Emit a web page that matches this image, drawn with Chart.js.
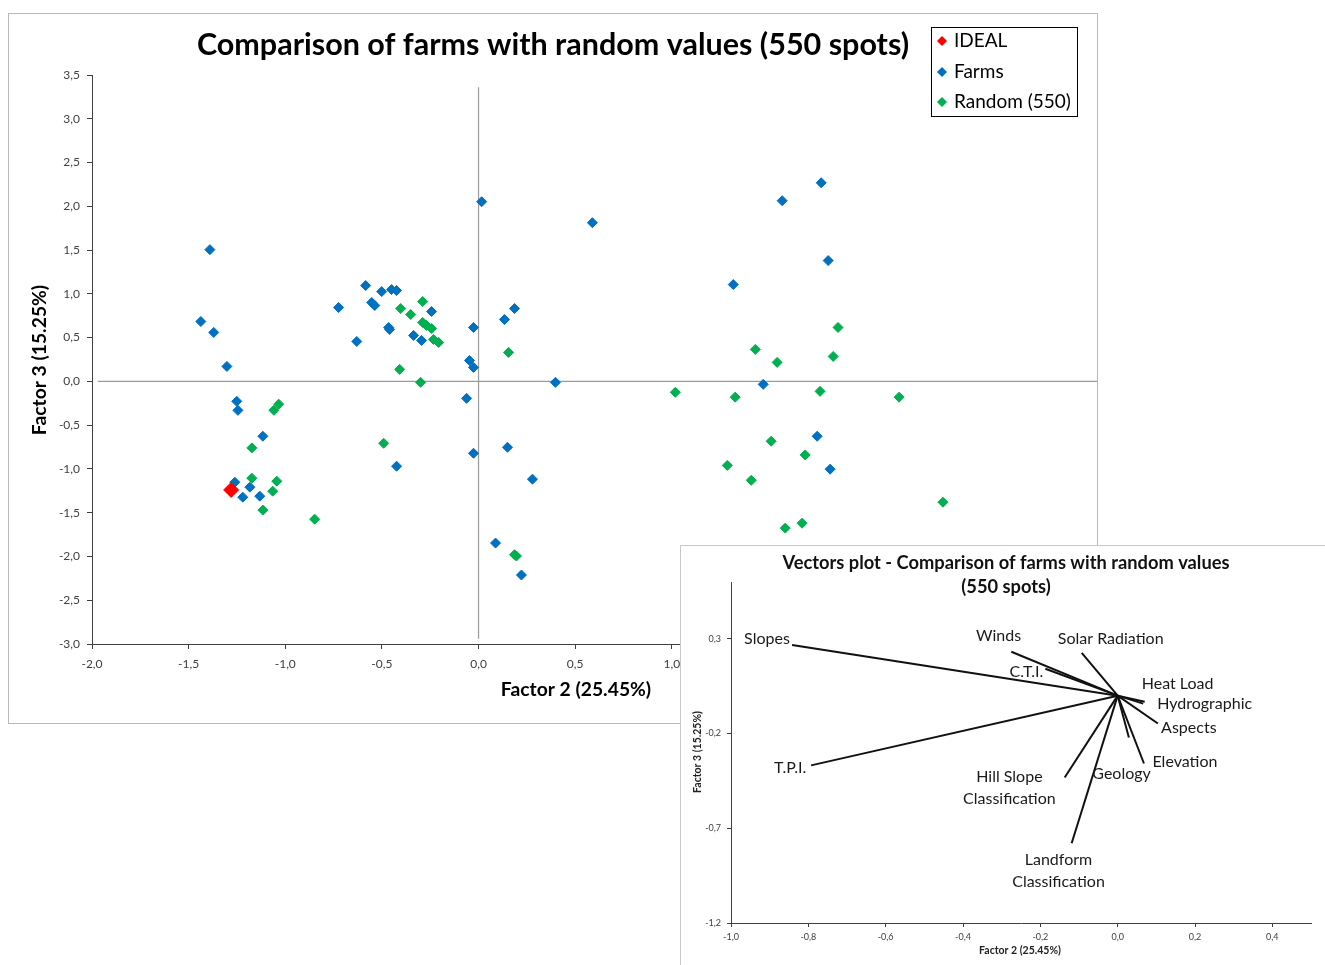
<!DOCTYPE html>
<html>
<head>
<meta charset="utf-8">
<script src="https://cdn.jsdelivr.net/npm/chart.js@4.4.1/dist/chart.umd.min.js"></script>
<style>
  html, body { margin: 0; padding: 0; background: #fff; }
  body { width: 1325px; height: 965px; position: relative; overflow: hidden; }
  #mainBox { position: absolute; left: 8px; top: 13px; }
  #insetBox { position: absolute; left: 680px; top: 545px; background: #fff; }
  canvas { display: block; }
</style>
</head>
<body>
<div id="mainBox"><canvas id="mainChart" width="1090" height="711"></canvas></div>
<div id="insetBox"><canvas id="vectorChart" width="645" height="420"></canvas></div>
<script>
// ---- main scatter: Factor 2 (x) vs Factor 3 (y) ----
const idealX = [-1.28];
const idealY = [-1.24];

const farmsX = [-1.390, -1.437, -1.370, -1.302, -1.251, -1.245, -1.116, -1.261, -1.183, -1.220, -1.132,
  -0.724, -0.630, -0.584, -0.553, -0.537, -0.501, -0.450, -0.424, -0.465, -0.460, -0.336, -0.295, -0.243,
  -0.424, -0.026, -0.047, -0.026, -0.062, -0.026, 0.016, 0.134, 0.186, 0.150, 0.279, 0.088, 0.222, 0.398,
  0.589, 1.571, 1.773, 1.318, 1.809, 1.473, 1.752, 1.819];
const farmsY = [1.505, 0.684, 0.559, 0.171, -0.228, -0.331, -0.627, -1.152, -1.209, -1.323, -1.311,
  0.844, 0.456, 1.095, 0.901, 0.867, 1.026, 1.049, 1.038, 0.616, 0.593, 0.525, 0.468, 0.798,
  -0.969, 0.616, 0.239, 0.160, -0.194, -0.821, 2.052, 0.707, 0.832, -0.753, -1.117, -1.847, -2.212, -0.011,
  1.813, 2.064, 2.269, 1.106, 1.380, -0.034, -0.627, -1.003];

const randomX = [-1.059, -1.034, -1.173, -1.173, -1.044, -1.065, -1.116, -0.848, -0.491, -0.403, -0.351,
  -0.289, -0.289, -0.269, -0.243, -0.233, -0.207, -0.408, -0.300, 0.155, 0.196, 0.186, 1.860, 1.432, 1.545,
  1.835, 1.018, 1.328, 1.767, 2.176, 1.514, 1.690, 1.287, 1.411, 2.403, 1.587, 1.674];
const randomY = [-0.330, -0.260, -0.760, -1.106, -1.140, -1.254, -1.470, -1.574, -0.707, 0.832, 0.764,
  0.912, 0.673, 0.639, 0.604, 0.479, 0.445, 0.137, -0.011, 0.331, -1.995, -1.980, 0.616, 0.365, 0.217,
  0.285, -0.125, -0.180, -0.114, -0.180, -0.684, -0.840, -0.960, -1.130, -1.380, -1.676, -1.620];

// the two cross lines through 0
const hLineX = [-1.97, 3.2];
const vLineY = [3.36, -2.94];

const mainXTicks = [-2.0, -1.5, -1.0, -0.5, 0.0, 0.5, 1.0, 1.5, 2.0, 2.5, 3.0];
const mainYTicks = [-3.0, -2.5, -2.0, -1.5, -1.0, -0.5, 0.0, 0.5, 1.0, 1.5, 2.0, 2.5, 3.0, 3.5];

const seriesNames = ['IDEAL', 'Farms', 'Random (550)'];
const seriesColors = ['#ff0000', '#0070c0', '#00b050'];

// ---- vectors plot ----
const vectorNames = ['Slopes', 'T.P.I.', 'Winds', 'C.T.I.', 'Solar Radiation', 'Heat Load', 'Hydrographic',
  'Aspects', 'Elevation', 'Geology', 'Hill Slope Classification', 'Landform Classification'];
const vectorX = [-0.842, -0.793, -0.275, -0.187, -0.093, 0.070, 0.066, 0.104, 0.068, 0.029, -0.137, -0.119];
const vectorY = [0.268, -0.368, 0.232, 0.142, 0.226, -0.032, -0.042, -0.147, -0.358, -0.221, -0.432, -0.779];

const vecXTicks = [-1.0, -0.8, -0.6, -0.4, -0.2, 0.0, 0.2, 0.4];
const vecYTicks = [-1.2, -0.7, -0.2, 0.3];

// where each vector's name is written (in axis units), and how it wraps
const labelAt = [[-0.907, 0.300], [-0.847, -0.379], [-0.308, 0.316], [-0.236, 0.126], [-0.018, 0.300],
  [0.155, 0.063], [0.225, -0.042], [0.184, -0.168], [0.174, -0.347], [0.010, -0.411], [-0.280, -0.426],
  [-0.153, -0.868]];
const labelLines = [['Slopes'], ['T.P.I.'], ['Winds'], ['C.T.I.'], ['Solar Radiation'], ['Heat Load'],
  ['Hydrographic'], ['Aspects'], ['Elevation'], ['Geology'], ['Hill Slope', 'Classification'],
  ['Landform', 'Classification']];

const FONT = 'Lato, "Open Sans", sans-serif';
const fmt = v => (Math.abs(v) < 1e-9 ? 0 : v).toFixed(1).replace('.', ',');

function pts(xs, ys) {
  return xs.map((x, i) => ({ x: x, y: ys[i] }));
}

function text(ctx, str, x, y, font, color, align) {
  ctx.save();
  ctx.font = font;
  ctx.fillStyle = color || '#000';
  ctx.textAlign = align || 'center';
  ctx.textBaseline = 'middle';
  ctx.fillText(str, x, y);
  ctx.restore();
}

function diamond(ctx, x, y, r, color) {
  ctx.save();
  ctx.fillStyle = color;
  ctx.beginPath();
  ctx.moveTo(x - r, y);
  ctx.lineTo(x, y - r);
  ctx.lineTo(x + r, y);
  ctx.lineTo(x, y + r);
  ctx.closePath();
  ctx.fill();
  ctx.restore();
}

const mainDecor = {
  id: 'mainDecor',
  beforeDraw(chart) {
    const ctx = chart.ctx;
    ctx.save();
    ctx.fillStyle = '#fff';
    ctx.fillRect(0, 0, chart.width, chart.height);
    ctx.restore();
  },
  afterDraw(chart) {
    const ctx = chart.ctx;
    // outer frame
    ctx.save();
    ctx.strokeStyle = '#b8b8b8';
    ctx.lineWidth = 1;
    ctx.strokeRect(0.5, 0.5, chart.width - 1, chart.height - 1);
    ctx.restore();

    text(ctx, 'Comparison of farms with random values (550 spots)', 545, 32, 'bold 30.5px ' + FONT, '#000');
    text(ctx, 'Factor 2 (25.45%)', 568, 677, 'bold 19.3px ' + FONT, '#000');
    ctx.save();
    ctx.translate(32, 347);
    ctx.rotate(-Math.PI / 2);
    text(ctx, 'Factor 3 (15.25%)', 0, 0, 'bold 19.3px ' + FONT, '#000');
    ctx.restore();

    // legend
    ctx.save();
    ctx.fillStyle = '#fff';
    ctx.fillRect(923, 14, 146, 89);
    ctx.strokeStyle = '#000';
    ctx.lineWidth = 1;
    ctx.strokeRect(923.5, 14.5, 146, 89);
    ctx.restore();
    const rows = [28, 59, 89];
    seriesNames.forEach((name, i) => {
      diamond(ctx, 934, rows[i], 5, seriesColors[i]);
      text(ctx, name, 946, rows[i], '19px ' + FONT, '#000', 'left');
    });
  }
};

const axisStyle = (ticks, fontSize, pad, tickLen) => ({
  type: 'linear',
  afterBuildTicks: s => { s.ticks = ticks.map(v => ({ value: v })); },
  ticks: {
    callback: v => fmt(v),
    font: { family: FONT, size: fontSize },
    color: '#404040',
    padding: pad,
    maxRotation: 0,
    autoSkip: false
  },
  grid: { display: true, drawOnChartArea: false, drawTicks: true, tickLength: tickLen, color: '#404040' },
  border: { display: true, color: '#404040', width: 1 }
});

// fixed axis band sizes, and no extra label padding at the ends
const fixHeight = h => s => { s.height = h; s.paddingLeft = 0; s.paddingRight = 0; };
const fixWidth = w => s => { s.width = w; s.paddingTop = 0; s.paddingBottom = 0; };

const mainX = axisStyle(mainXTicks, 12, 8, 5);
mainX.min = -2; mainX.max = 3.2;
mainX.afterFit = fixHeight(80);
const mainY = axisStyle(mainYTicks, 12, 7, 5);
mainY.min = -3; mainY.max = 3.5;
mainY.afterFit = fixWidth(84);

new Chart(document.getElementById('mainChart'), {
  type: 'scatter',
  data: {
    datasets: [
      {
        label: seriesNames[0], data: pts(idealX, idealY), order: 0,
        pointStyle: 'rectRot', pointRadius: 7.5, backgroundColor: seriesColors[0],
        borderColor: seriesColors[0], borderWidth: 1
      },
      {
        label: seriesNames[1], data: pts(farmsX, farmsY), order: 2,
        pointStyle: 'rectRot', pointRadius: 5, backgroundColor: seriesColors[1],
        borderColor: seriesColors[1], borderWidth: 1
      },
      {
        label: seriesNames[2], data: pts(randomX, randomY), order: 1,
        pointStyle: 'rectRot', pointRadius: 5, backgroundColor: seriesColors[2],
        borderColor: seriesColors[2], borderWidth: 1
      },
      {
        label: 'h0', data: hLineX.map(x => ({ x: x, y: 0 })), order: 10, type: 'line',
        showLine: true, pointRadius: 0, borderColor: '#9a9a9a', borderWidth: 1.2
      },
      {
        label: 'v0', data: vLineY.map(y => ({ x: 0, y: y })), order: 10, type: 'line',
        showLine: true, pointRadius: 0, borderColor: '#9a9a9a', borderWidth: 1.2
      }
    ]
  },
  options: {
    responsive: false,
    animation: false,
    layout: { autoPadding: false, padding: { left: 0, right: 1, top: 62, bottom: 0 } },
    plugins: { legend: { display: false }, tooltip: { enabled: false }, title: { display: false } },
    scales: { x: mainX, y: mainY }
  },
  plugins: [mainDecor]
});

// ---- vectors plot (inset) ----
const vecDecor = {
  id: 'vecDecor',
  beforeDraw(chart) {
    const ctx = chart.ctx;
    ctx.save();
    ctx.fillStyle = '#fff';
    ctx.fillRect(0, 0, chart.width, chart.height);
    ctx.strokeStyle = '#c8c8c8';
    ctx.lineWidth = 1;
    ctx.beginPath();
    ctx.moveTo(0.5, chart.height);
    ctx.lineTo(0.5, 0.5);
    ctx.lineTo(chart.width, 0.5);
    ctx.stroke();
    ctx.restore();
  },
  afterDraw(chart) {
    const ctx = chart.ctx;
    const xs = chart.scales.x, ys = chart.scales.y;
    text(ctx, 'Vectors plot - Comparison of farms with random values', 326, 18, 'bold 18.3px ' + FONT, '#111');
    text(ctx, '(550 spots)', 326, 42, 'bold 18.3px ' + FONT, '#111');
    text(ctx, 'Factor 2 (25.45%)', 340, 406, 'bold 10.5px ' + FONT, '#222');
    ctx.save();
    ctx.translate(18, 207);
    ctx.rotate(-Math.PI / 2);
    text(ctx, 'Factor 3 (15.25%)', 0, 0, 'bold 10.5px ' + FONT, '#222');
    ctx.restore();

    labelAt.forEach((p, i) => {
      const px = xs.getPixelForValue(p[0]);
      const py = ys.getPixelForValue(p[1]);
      labelLines[i].forEach((ln, k) => {
        text(ctx, ln, px, py + k * 22, '16px ' + FONT, '#1a1a1a');
      });
    });
  }
};

const vecX = axisStyle(vecXTicks, 9, 5, 4);
vecX.min = -1.0; vecX.max = 0.5;
vecX.afterFit = fixHeight(42);
const vecY = axisStyle(vecYTicks, 9, 6, 4);
vecY.min = -1.2; vecY.max = 0.6;
vecY.afterFit = fixWidth(51);

new Chart(document.getElementById('vectorChart'), {
  type: 'scatter',
  data: {
    datasets: vectorNames.map((name, i) => ({
      label: name,
      type: 'line',
      data: [{ x: 0, y: 0 }, { x: vectorX[i], y: vectorY[i] }],
      showLine: true,
      pointRadius: 0,
      borderColor: '#111',
      borderWidth: 2
    }))
  },
  options: {
    responsive: false,
    animation: false,
    layout: { autoPadding: false, padding: { left: 0, right: 14, top: 37, bottom: 0 } },
    plugins: { legend: { display: false }, tooltip: { enabled: false }, title: { display: false } },
    scales: { x: vecX, y: vecY }
  },
  plugins: [vecDecor]
});
</script>
</body>
</html>
